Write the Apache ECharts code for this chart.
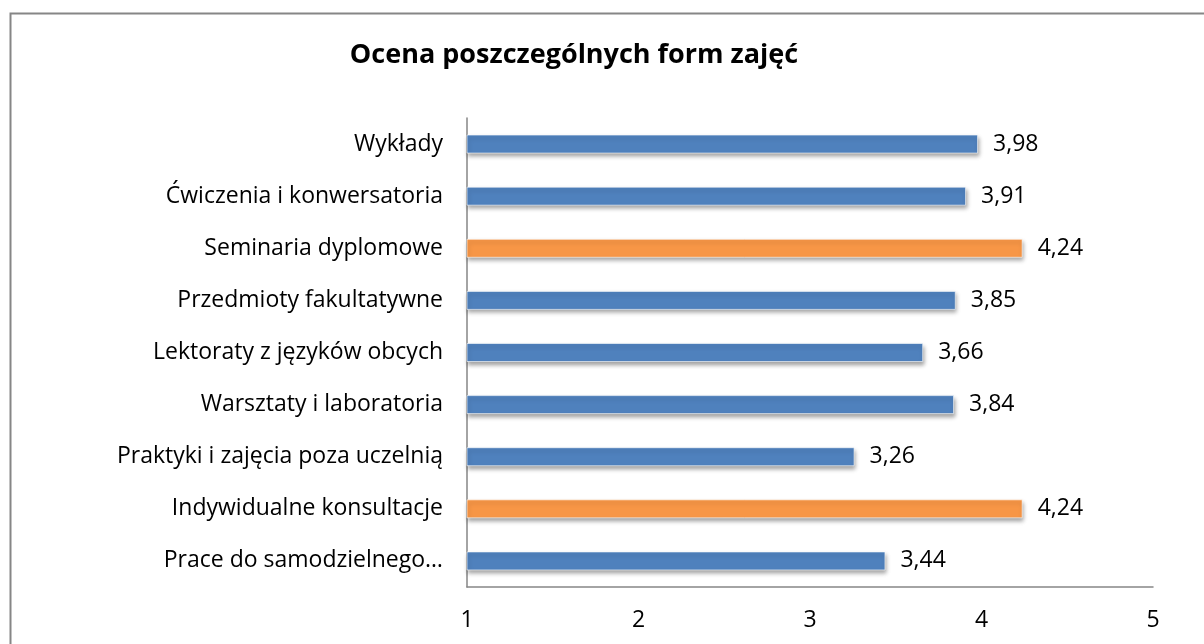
<!DOCTYPE html>
<html>
<head>
<meta charset="utf-8">
<script src="https://cdn.jsdelivr.net/npm/echarts@6/dist/echarts.min.js"></script>
<style>
  html, body { margin: 0; padding: 0; background: #ffffff; }
  #main { width: 1204px; height: 644px; }
</style>
</head>
<body>
<div id="main"></div>
<script>
// dane z wykresu
var categories = [
  'Wykłady',
  'Ćwiczenia i konwersatoria',
  'Seminaria dyplomowe',
  'Przedmioty fakultatywne',
  'Lektoraty z języków obcych',
  'Warsztaty i laboratoria',
  'Praktyki i zajęcia poza uczelnią',
  'Indywidualne konsultacje',
  'Prace do samodzielnego…'
];
var values = [3.98, 3.91, 4.24, 3.85, 3.66, 3.84, 3.26, 4.24, 3.44];
var highlighted = [false, false, true, false, false, false, false, true, false];
var xTicks = [1, 2, 3, 4, 5];

var BLUE = '#4f81bd';
var ORANGE = '#f79646';
var FONT = '"Open Sans", "Noto Sans", sans-serif';

var chart = echarts.init(document.getElementById('main'));

var option = {
  backgroundColor: '#ffffff',
  animation: false,
  title: {
    text: 'Ocena poszczególnych form zajęć',
    left: 569,
    textAlign: 'center',
    top: 37,
    textStyle: {
      fontFamily: FONT,
      fontSize: 27,
      fontWeight: 'bold',
      color: '#000000'
    }
  },
  graphic: [{
    type: 'rect',
    left: 8,
    top: 11,
    shape: { width: 1220, height: 700 },
    style: { fill: 'none', stroke: '#868686', lineWidth: 2 },
    silent: true
  }],
  grid: {
    left: 467,
    right: 51,
    top: 118,
    bottom: 57
  },
  xAxis: {
    type: 'value',
    min: xTicks[0],
    max: xTicks[xTicks.length - 1],
    interval: 1,
    axisLine: { show: true, lineStyle: { color: '#868686', width: 1.5 } },
    axisTick: { show: false },
    splitLine: { show: false },
    axisLabel: {
      margin: 22,
      fontFamily: FONT,
      fontSize: 23,
      color: '#000000'
    }
  },
  yAxis: {
    type: 'category',
    inverse: true,
    data: categories,
    axisLine: { show: true, lineStyle: { color: '#868686', width: 1.5 } },
    axisTick: { show: false },
    axisLabel: {
      margin: 24,
      fontFamily: FONT,
      fontSize: 23,
      color: '#000000'
    }
  },
  series: [{
    type: 'bar',
    barWidth: 19,
    data: values.map(function (v, i) {
      return {
        value: v,
        itemStyle: { color: highlighted[i] ? ORANGE : BLUE }
      };
    }),
    itemStyle: {
      borderColor: 'rgba(255,255,255,0.6)',
      borderWidth: 1,
      shadowColor: 'rgba(0,0,0,0.35)',
      shadowBlur: 4,
      shadowOffsetX: 1,
      shadowOffsetY: 3
    },
    label: {
      show: true,
      position: 'right',
      distance: 15,
      fontFamily: FONT,
      fontSize: 23,
      color: '#000000',
      formatter: function (p) {
        return p.value.toFixed(2).replace('.', ',');
      }
    }
  }]
};

chart.setOption(option);
</script>
</body>
</html>
